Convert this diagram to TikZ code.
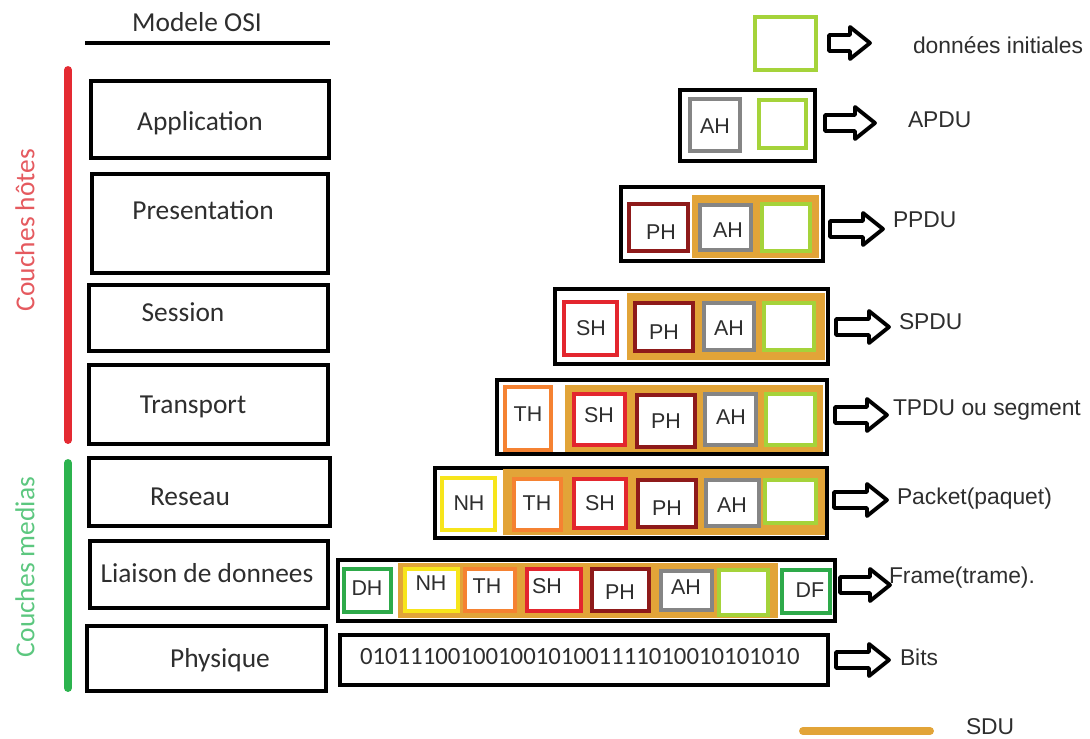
\documentclass[tikz,border=0pt]{standalone}
\usepackage{fontspec}
\newfontfamily\calfont{Carlito}
\newfontfamily\arfont{Liberation Sans}
\usetikzlibrary{fit}

\definecolor{txtgray}{HTML}{2E2E2E}
\definecolor{sdugold}{HTML}{E2A438}
\definecolor{datagreen}{HTML}{A5D33A}
\definecolor{ahgray}{HTML}{858585}
\definecolor{phred}{HTML}{8E1A1A}
\definecolor{shred}{HTML}{E3262E}
\definecolor{thorange}{HTML}{F58232}
\definecolor{nhyellow}{HTML}{F7E51B}
\definecolor{dlgreen}{HTML}{2EAA4A}
\definecolor{hostred}{HTML}{E42A32}
\definecolor{hosttxt}{HTML}{E55A5F}
\definecolor{mediagreen}{HTML}{2CB34E}
\definecolor{mediatxt}{HTML}{5CC77F}

\tikzset{
  every node/.style={inner sep=0pt, outer sep=0pt},
  layerbox/.style={draw=black, line width=2.6pt},
  pdubox/.style={draw=black, line width=2.8pt},
  hdr/.style={draw=#1, line width=2.4pt, fill=white},
  band/.style={fill=sdugold},
  layertxt/.style={font=\calfont\fontsize{15.6}{18}\selectfont, text=txtgray},
  pdutxt/.style={font=\arfont\fontsize{13}{15}\selectfont, text=txtgray, anchor=west},
  hdrtxt/.style={font=\arfont\fontsize{12.2}{14}\selectfont, text=txtgray},
  barrow/.style={draw=black, line width=2.2pt, fill=white, line join=round},
}

% a rectangle node spanning two corner points (centre line of its border)
\newcommand\cell[6]{\node[#2, fit={(#3,#4) (#5,#6)}, inner sep=0pt] (#1) {};}
% outlined block arrow: name, start x, centre y, length
\newcommand\blockarrow[4]{%
  \coordinate (#1) at (#2,#3);
  \draw[barrow] (#2,#3-8) -- (#2+#4-20,#3-8) -- (#2+#4-20,#3-16) -- (#2+#4,#3)
    -- (#2+#4-20,#3+16) -- (#2+#4-20,#3+8) -- (#2,#3+8) -- cycle;}

\begin{document}
\begin{tikzpicture}[x=0.02cm, y=-0.02cm]
\useasboundingbox (0,0) rectangle (1090,738);

% ---------- OSI stack ----------
\node[layertxt] (title) at (197,22) {Modele OSI};
\draw[line width=2.1pt] (85,43) -- (330,43);

\cell{app}{layerbox}{91}{81}{329}{158}
\cell{pres}{layerbox}{92}{174}{328}{273}
\cell{sess}{layerbox}{89}{285}{328}{351}
\cell{trans}{layerbox}{89}{365}{328}{444}
\cell{net}{layerbox}{89}{458}{330}{526}
\cell{link}{layerbox}{90}{541}{328}{608}
\cell{phys}{layerbox}{87}{626}{326}{691}

\node[layertxt] (appt) at (200,123) {Application};
\node[layertxt] (prest) at (203,210) {Presentation};
\node[layertxt] (sesst) at (183,312) {Session};
\node[layertxt] (transt) at (193,407) {Transport};
\node[layertxt] (nett) at (190,497) {Reseau};
\node[layertxt] (linkt) at (207,573) {Liaison de donnees};
\node[layertxt] (physt) at (220,660) {Physique};

% host / media brackets
\draw[hostred, line width=4.5pt, line cap=round] (68,70) -- (68,440);
\draw[mediagreen, line width=4.5pt, line cap=round] (68,463) -- (68,688);
\node[layertxt, text=hosttxt, rotate=90] (hosts) at (25,230) {Couches hôtes};
\node[layertxt, text=mediatxt, rotate=90] (media) at (25,567) {Couches medias};

% ---------- legend: initial data ----------
\cell{d0}{hdr=datagreen}{755}{17}{816}{70}
\blockarrow{a0}{829}{43}{41}
\node[pdutxt] (t0) at (913,45) {données initiales};

% ---------- APDU ----------
\cell{apdu}{pdubox}{680}{90}{815}{161}
\cell{ah1}{hdr=ahgray}{690}{99}{740}{151}
\cell{d1}{hdr=datagreen}{759}{100}{806}{148}
\node[hdrtxt] at (715,126) {AH};
\blockarrow{a1}{825}{123}{50}
\node[pdutxt] (t1) at (908,120) {APDU};

% ---------- PPDU ----------
\cell{ppdu}{pdubox}{621}{187}{823}{261}
\cell{s2}{band}{692}{195}{819}{258}
\cell{ph2}{hdr=phred}{629}{204}{688}{251}
\cell{ah2}{hdr=ahgray}{700}{205}{751}{250}
\cell{d2}{hdr=datagreen}{762}{204}{810}{251}
\node[hdrtxt] at (661,232) {PH};
\node[hdrtxt] at (728,230) {AH};
\blockarrow{a2}{830}{229}{53}
\node[pdutxt] (t2) at (893,220) {PPDU};

% ---------- SPDU ----------
\cell{spdu}{pdubox}{555}{289}{828}{364}
\cell{s3}{band}{627}{293}{825}{360}
\cell{sh3}{hdr=shred}{564}{302}{617}{355}
\cell{ph3}{hdr=phred}{635}{303}{693}{351}
\cell{ah3}{hdr=ahgray}{704}{303}{754}{350}
\cell{d3}{hdr=datagreen}{764}{303}{814}{350}
\node[hdrtxt] at (591,328) {SH};
\node[hdrtxt] at (664,332) {PH};
\node[hdrtxt] at (729,328) {AH};
\blockarrow{a3}{836}{327}{53}
\node[pdutxt] (t3) at (899,322) {SPDU};

% ---------- TPDU ----------
\cell{tpdu}{pdubox}{497}{380}{827}{454}
\cell{s4}{band}{565}{385}{823}{452}
\cell{th4}{hdr=thorange}{505}{387}{551}{450}
\cell{sh4}{hdr=shred}{574}{394}{625}{445}
\cell{ph4}{hdr=phred}{637}{395}{695}{447}
\cell{ah4}{hdr=ahgray}{705}{394}{756}{445}
\cell{d4}{hdr=datagreen}{766}{394}{815}{445}
\node[hdrtxt] at (528,414) {TH};
\node[hdrtxt] at (599,415) {SH};
\node[hdrtxt] at (666,421) {PH};
\node[hdrtxt] at (731,417) {AH};
\blockarrow{a4}{835}{415}{52}
\node[pdutxt] (t4) at (893,410) {TPDU ou segment};

% ---------- Packet ----------
\cell{pkt}{pdubox}{435}{468}{827}{538}
\cell{s5}{band}{503}{469}{825}{535}
\cell{nh5}{hdr=nhyellow}{442}{478}{495}{530}
\cell{th5}{hdr=thorange}{514}{479}{561}{530}
\cell{sh5}{hdr=shred}{574}{479}{626}{528}
\cell{ph5}{hdr=phred}{638}{480}{696}{527}
\cell{ah5}{hdr=ahgray}{706}{480}{759}{526}
\cell{d5}{hdr=datagreen}{765}{480}{816}{523}
\node[hdrtxt] at (469,503) {NH};
\node[hdrtxt] at (537,503) {TH};
\node[hdrtxt] at (600,503) {SH};
\node[hdrtxt] at (667,508) {PH};
\node[hdrtxt] at (732,505) {AH};
\blockarrow{a5}{834}{500}{53}
\node[pdutxt] (t5) at (897,499) {Packet(paquet)};

% ---------- Frame ----------
\cell{frm}{pdubox}{338}{560}{835}{621}
\cell{s6}{band}{398}{563}{778}{618}
\cell{dh6}{hdr=dlgreen}{344}{569}{391}{612}
\cell{nh6}{hdr=nhyellow}{405}{569}{458}{611}
\cell{th6}{hdr=thorange}{465}{569}{515}{611}
\cell{sh6}{hdr=shred}{527}{569}{581}{611}
\cell{ph6}{hdr=phred}{592}{569}{649}{611}
\cell{ah6}{hdr=ahgray}{661}{571}{712}{610}
\cell{d6}{hdr=datagreen}{719}{570}{768}{615}
\cell{df6}{hdr=dlgreen}{782}{570}{830}{613}
\node[hdrtxt] at (367,588) {DH};
\node[hdrtxt] at (431,583) {NH};
\node[hdrtxt] at (487,586) {TH};
\node[hdrtxt] at (547,586) {SH};
\node[hdrtxt] at (620,592) {PH};
\node[hdrtxt] at (686,587) {AH};
\node[hdrtxt] at (810,590) {DF};
\blockarrow{a6}{840}{585}{50}
\node[pdutxt] (t6) at (889,578) {Frame(trame).};

% ---------- Bits ----------
\cell{bits}{pdubox}{340}{635}{828}{685}
\node[font=\calfont\fontsize{14.1}{16}\selectfont, text=txtgray, anchor=west] (bitst) at (360,657) {01011100100100101001111010010101010};
\blockarrow{a7}{836}{660}{53}
\node[pdutxt] (t7) at (900,657) {Bits};

% ---------- legend: SDU ----------
\draw[sdugold, line width=4.5pt, line cap=round] (803,731) -- (930,731);
\node[pdutxt] (tsdu) at (966,727) {SDU};
\end{tikzpicture}
\end{document}
